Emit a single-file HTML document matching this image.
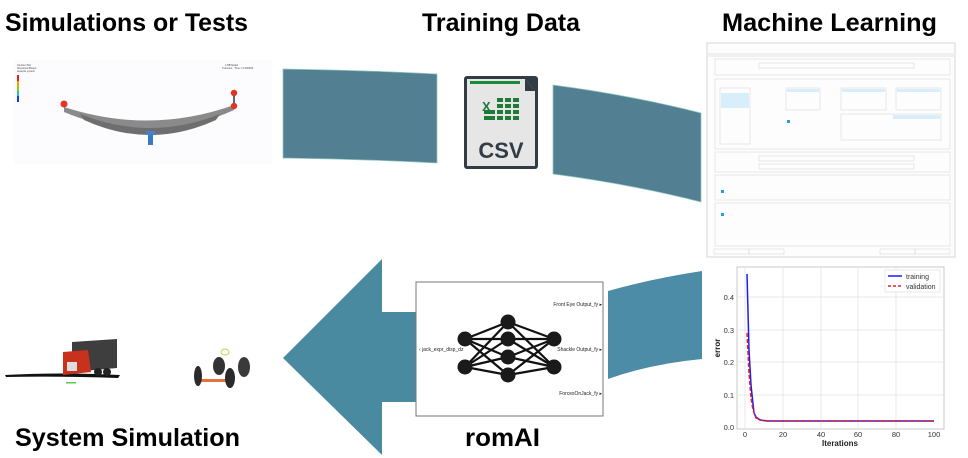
<!DOCTYPE html>
<html><head><meta charset="utf-8"><style>
html,body{margin:0;padding:0;background:#fff;}
svg{display:block;font-family:"Liberation Sans",Arial,sans-serif;}
</style></head><body>
<svg width="968" height="458" viewBox="0 0 968 458" xmlns="http://www.w3.org/2000/svg">
<g font-weight="bold" font-size="25" fill="#000">
<text x="5" y="31" textLength="243" lengthAdjust="spacingAndGlyphs">Simulations or Tests</text>
<text x="422" y="31" textLength="158" lengthAdjust="spacingAndGlyphs">Training Data</text>
<text x="722" y="31" textLength="215" lengthAdjust="spacingAndGlyphs">Machine Learning</text>
<text x="15" y="446" textLength="225" lengthAdjust="spacingAndGlyphs">System Simulation</text>
<text x="465" y="446" textLength="75" lengthAdjust="spacingAndGlyphs">romAI</text>
</g>

<path d="M283,69 Q360,70 437,74 L437,163 Q360,159 283,158 Z" fill="#527f92" stroke="#8fc9bf" stroke-width="0.8"/>
<path d="M553,85 Q630,95 701,113 L701,202 Q630,184 553,174 Z" fill="#527f92" stroke="#8fc9bf" stroke-width="0.8"/>
<path d="M608,291 Q650,279 702,271 L702,359 Q650,364 608,379 Z" fill="#4c8ca6"/>
<path d="M283,358 L382,259 L382,312 L416,312 L416,402 L382,402 L382,455 Z" fill="#4a8aa0"/>

<rect x="14" y="60" width="258" height="104" fill="#fcfcff"/>
<g font-size="2.5" fill="#444"><text x="17" y="66">Contour Plot</text><text x="17" y="69">Stress(vonMises)</text><text x="17" y="72">Analysis system</text><text x="225" y="66">1:RB Model</text><text x="222" y="69">Transient : Time = 0.000000</text></g>
<rect x="17" y="75" width="2" height="6" fill="#e02010"/><rect x="17" y="81" width="2" height="5" fill="#f0a000"/><rect x="17" y="86" width="2" height="5" fill="#90d000"/><rect x="17" y="91" width="2" height="5" fill="#20c0c0"/><rect x="17" y="96" width="2" height="6" fill="#1040e0"/>
<path d="M64,107 Q150,135 234,105 L234,110 Q150,148 64,112 Z" fill="#8a8a8a"/>
<path d="M80,114 Q150,142 220,114 L216,120 Q150,150 84,120 Z" fill="#6e6e6e"/>
<rect x="146" y="131" width="9" height="4" fill="#4a80c8"/><rect x="148" y="135" width="5" height="10" fill="#3a78c8"/>
<circle cx="64" cy="104" r="3.5" fill="#e8321e"/><circle cx="234" cy="93" r="3.2" fill="#e8321e"/><circle cx="234" cy="106" r="3.2" fill="#e8321e"/>
<rect x="233" y="95" width="2" height="9" fill="#666"/>

<rect x="464" y="76" width="74" height="93" rx="3" fill="#323c45"/>
<path d="M467,79 L525,79 L535,91 L535,166 L467,166 Z" fill="#e6e6e6"/>
<path d="M525,79 L525,91 L535,91 Z" fill="#323c45"/>
<rect x="470" y="81" width="50" height="3" fill="#1a8a3a"/>
<text x="482" y="111" font-size="13" font-weight="bold" fill="#1f7a3a">X</text>
<g fill="#1f7a3a">
<rect x="497" y="98" width="6" height="4"/><rect x="505" y="98" width="6" height="4"/><rect x="513" y="98" width="6" height="4"/>
<rect x="497" y="104" width="6" height="4"/><rect x="505" y="104" width="6" height="4"/><rect x="513" y="104" width="6" height="4"/>
<rect x="484" y="110" width="11" height="4"/><rect x="497" y="110" width="6" height="4"/><rect x="505" y="110" width="6" height="4"/><rect x="513" y="110" width="6" height="4"/>
<rect x="484" y="116" width="11" height="4"/><rect x="497" y="116" width="6" height="4"/><rect x="505" y="116" width="6" height="4"/><rect x="513" y="116" width="6" height="4"/>
</g>
<text x="501" y="158" font-size="22" font-weight="bold" fill="#323c45" text-anchor="middle">CSV</text>

<rect x="707" y="43" width="248" height="214" fill="#fdfdfd" stroke="#ccc" stroke-width="0.8"/>
<rect x="708" y="53" width="246" height="4" fill="#f0f0f0"/>
<g fill="none" stroke="#ddd" stroke-width="0.7">
<rect x="715" y="59" width="235" height="16"/>
<rect x="715" y="79" width="235" height="70"/>
<rect x="715" y="152" width="235" height="20"/>
<rect x="715" y="175" width="235" height="25"/>
<rect x="715" y="203" width="235" height="43"/>
<rect x="720" y="88" width="30" height="56"/>
<rect x="786" y="88" width="34" height="22"/>
<rect x="841" y="88" width="45" height="22"/>
<rect x="896" y="88" width="45" height="22"/>
<rect x="841" y="114" width="100" height="26"/>
<rect x="759" y="63" width="155" height="5"/>
<rect x="759" y="156" width="155" height="5"/>
<rect x="759" y="164" width="155" height="5"/>
</g>
<rect x="721" y="93" width="28" height="15" fill="#d8eefa"/>
<rect x="787" y="89" width="32" height="3" fill="#d8eefa"/><rect x="842" y="89" width="43" height="3" fill="#d8eefa"/><rect x="897" y="89" width="43" height="3" fill="#d8eefa"/>
<rect x="893" y="115" width="47" height="4" fill="#d8eefa"/>
<rect x="787" y="120" width="3" height="3" fill="#2a9de0"/><rect x="721" y="213" width="3" height="3" fill="#2a9de0"/><rect x="721" y="190" width="3" height="3" fill="#2a9de0"/>
<g fill="none" stroke="#ddd" stroke-width="0.7"><rect x="714" y="249" width="35" height="5"/><rect x="749" y="249" width="35" height="5"/><rect x="880" y="249" width="35" height="5"/><rect x="915" y="249" width="35" height="5"/></g>

<rect x="416" y="282" width="187" height="134" fill="#fff" stroke="#777" stroke-width="1"/>
<g stroke="#111" stroke-width="2.2">
<line x1="465" y1="339" x2="508" y2="322"/><line x1="465" y1="339" x2="508" y2="339"/><line x1="465" y1="339" x2="508" y2="357"/><line x1="465" y1="339" x2="508" y2="375"/>
<line x1="465" y1="367" x2="508" y2="322"/><line x1="465" y1="367" x2="508" y2="339"/><line x1="465" y1="367" x2="508" y2="357"/><line x1="465" y1="367" x2="508" y2="375"/>
<line x1="554" y1="339" x2="508" y2="322"/><line x1="554" y1="339" x2="508" y2="339"/><line x1="554" y1="339" x2="508" y2="357"/><line x1="554" y1="339" x2="508" y2="375"/>
<line x1="554" y1="367" x2="508" y2="322"/><line x1="554" y1="367" x2="508" y2="339"/><line x1="554" y1="367" x2="508" y2="357"/><line x1="554" y1="367" x2="508" y2="375"/>
</g>
<g fill="#1a1a1a">
<circle cx="465" cy="339" r="7.5"/><circle cx="465" cy="367" r="7.5"/>
<circle cx="508" cy="322" r="7.5"/><circle cx="508" cy="339" r="7.5"/><circle cx="508" cy="357" r="7.5"/><circle cx="508" cy="375" r="7.5"/>
<circle cx="554" cy="339" r="7.5"/><circle cx="554" cy="367" r="7.5"/>
</g>
<g font-size="5" fill="#222">
<text x="419" y="351">‹ jack_expr_disp_dz</text>
<text x="602" y="306" text-anchor="end">Front Eye Output_fy ▸</text>
<text x="602" y="351" text-anchor="end">Shackle Output_fy ▸</text>
<text x="602" y="395" text-anchor="end">ForcesOnJack_fy ▸</text>
</g>

<path d="M5,375 Q60,372 120,375 L118,378 Q60,376 6,377 Z" fill="#111"/>
<path d="M72,342 L117,339 L117,368 L72,372 Z" fill="#3e3e3e"/>
<path d="M63,352 L88,350 L91,372 L63,375 Z" fill="#c8321c"/>
<rect x="67" y="362" width="10" height="9" fill="#ddd"/>
<circle cx="98" cy="372" r="4" fill="#222"/><circle cx="107" cy="372" r="4" fill="#222"/>
<rect x="66" y="382" width="10" height="1.5" fill="#5c5"/>
<ellipse cx="225" cy="352" rx="4" ry="3" fill="none" stroke="#cc4" stroke-width="1"/>
<rect x="200" y="379" width="30" height="3" fill="#e8703a"/>
<ellipse cx="198" cy="376" rx="4" ry="10" fill="#2a2a2a"/><ellipse cx="230" cy="378" rx="5" ry="10" fill="#2a2a2a"/>
<ellipse cx="219" cy="366" rx="6" ry="9" fill="#333"/><ellipse cx="244" cy="367" rx="6" ry="10" fill="#3a3a3a"/>

<rect x="737" y="267" width="207" height="162" fill="#fff" stroke="#bbb" stroke-width="0.8"/>
<g stroke="#e2e2e2" stroke-width="0.8">
<line x1="745" y1="267" x2="745" y2="429"/><line x1="783" y1="267" x2="783" y2="429"/><line x1="821" y1="267" x2="821" y2="429"/><line x1="858" y1="267" x2="858" y2="429"/><line x1="896" y1="267" x2="896" y2="429"/>
<line x1="737" y1="395" x2="944" y2="395"/><line x1="737" y1="362" x2="944" y2="362"/><line x1="737" y1="330" x2="944" y2="330"/><line x1="737" y1="297" x2="944" y2="297"/>
</g>
<polyline points="747,274 749,350 751,385 753,404 754,413 756,417 760,420 768,421 934,421" fill="none" stroke="#1a1aff" stroke-width="1.5"/>
<polyline points="747,333 749,373 751,398 753,410 756,418 764,421 934,421" fill="none" stroke="#e82020" stroke-width="1.5" stroke-dasharray="4,2"/>
<rect x="885" y="270" width="55" height="22" fill="#fff" stroke="#ddd" stroke-width="0.6"/>
<line x1="888" y1="276" x2="902" y2="276" stroke="#1a1aff" stroke-width="1.5"/>
<line x1="888" y1="286" x2="902" y2="286" stroke="#e82020" stroke-width="1.5" stroke-dasharray="3,2"/>
<g font-size="7" fill="#333"><text x="906" y="279">training</text><text x="906" y="289">validation</text></g>
<g font-size="7.5" fill="#333" text-anchor="end">
<text x="734" y="430">0.0</text><text x="734" y="398">0.1</text><text x="734" y="365">0.2</text><text x="734" y="333">0.3</text><text x="734" y="300">0.4</text>
</g>
<g font-size="7.5" fill="#333" text-anchor="middle">
<text x="745" y="437">0</text><text x="783" y="437">20</text><text x="821" y="437">40</text><text x="858" y="437">60</text><text x="896" y="437">80</text><text x="934" y="437">100</text>
</g>
<text x="840" y="446" font-size="8" font-weight="bold" text-anchor="middle" fill="#222">Iterations</text>
<text x="720" y="348" font-size="8" font-weight="bold" text-anchor="middle" fill="#222" transform="rotate(-90 720 348)">error</text>
</svg>
</body></html>
